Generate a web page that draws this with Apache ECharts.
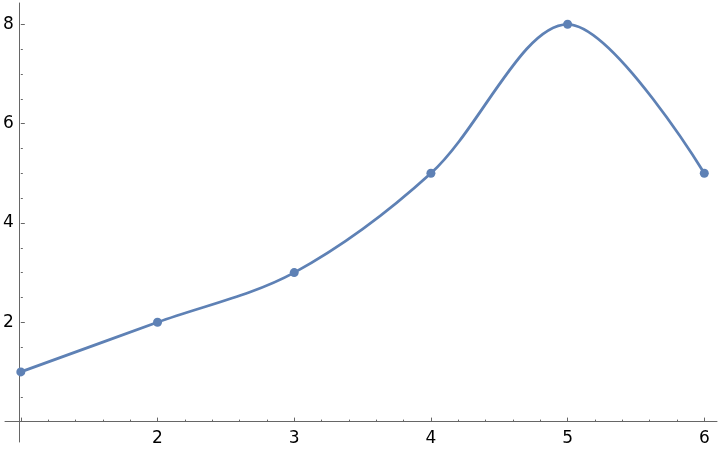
<!DOCTYPE html>
<html><head><meta charset="utf-8">
<script src="https://cdn.jsdelivr.net/npm/echarts@6/dist/echarts.min.js"></script>
<style>html,body{margin:0;padding:0;background:#fff}#c{width:720px;height:452px}</style>
</head><body><div id="c"></div>
<script>
const xValues = [1, 2, 3, 4, 5, 6];
const yValues = [1, 2, 3, 5, 8, 5];
const xTickLabels = [2, 3, 4, 5, 6];
const yTickLabels = [2, 4, 6, 8];

const lineColor = '#5e81b5';
const axisColor = '#666666';
const labelFont = { color: '#000', fontFamily: 'DejaVu Sans', fontSize: 17 };

const chart = echarts.init(document.getElementById('c'), null, { renderer: 'canvas' });
chart.setOption({
  animation: false,
  backgroundColor: '#fff',
  grid: [
    { left: 19.3, right: 15.7, top: 24.3, bottom: 30.4 },
    { left: 5, right: 3, top: 3, bottom: 10 }
  ],
  xAxis: [
    {
      type: 'value', gridIndex: 0, min: 1, max: 6, interval: 1,
      axisLine: { show: false },
      axisTick: { show: true, inside: true, length: 4, lineStyle: { color: axisColor, width: 1 } },
      minorTick: { show: true, splitNumber: 5, length: 2, lineStyle: { color: axisColor, width: 1 } },
      splitLine: { show: false },
      axisLabel: Object.assign({ margin: 8, formatter: v => xTickLabels.includes(v) ? String(v) : '' }, labelFont)
    },
    {
      type: 'value', gridIndex: 1, min: -0.1044, max: 5.0927,
      axisLine: { show: true, onZero: true, lineStyle: { color: axisColor, width: 1 } },
      axisTick: { show: false }, axisLabel: { show: false }, splitLine: { show: false }
    }
  ],
  yAxis: [
    {
      type: 'value', gridIndex: 0, min: 0, max: 8, interval: 2,
      axisLine: { show: false },
      axisTick: { show: true, inside: true, length: 4, lineStyle: { color: axisColor, width: 1 } },
      minorTick: { show: true, splitNumber: 4, length: 2, lineStyle: { color: axisColor, width: 1 } },
      splitLine: { show: false },
      axisLabel: Object.assign({ margin: 7, formatter: v => yTickLabels.includes(v) ? String(v) : '' }, labelFont)
    },
    {
      type: 'value', gridIndex: 1, min: -0.4107, max: 8.428,
      axisLine: { show: true, onZero: true, lineStyle: { color: axisColor, width: 1 } },
      axisTick: { show: false }, axisLabel: { show: false }, splitLine: { show: false }
    }
  ],
  series: [{
    type: 'line',
    xAxisIndex: 0, yAxisIndex: 0,
    data: xValues.map((x, i) => [x, yValues[i]]),
    smooth: 0.33,
    clip: false,
    symbol: 'circle',
    symbolSize: 9,
    z: 10,
    lineStyle: { color: lineColor, width: 2.8 },
    itemStyle: { color: lineColor }
  }]
});
</script>
</body></html>
